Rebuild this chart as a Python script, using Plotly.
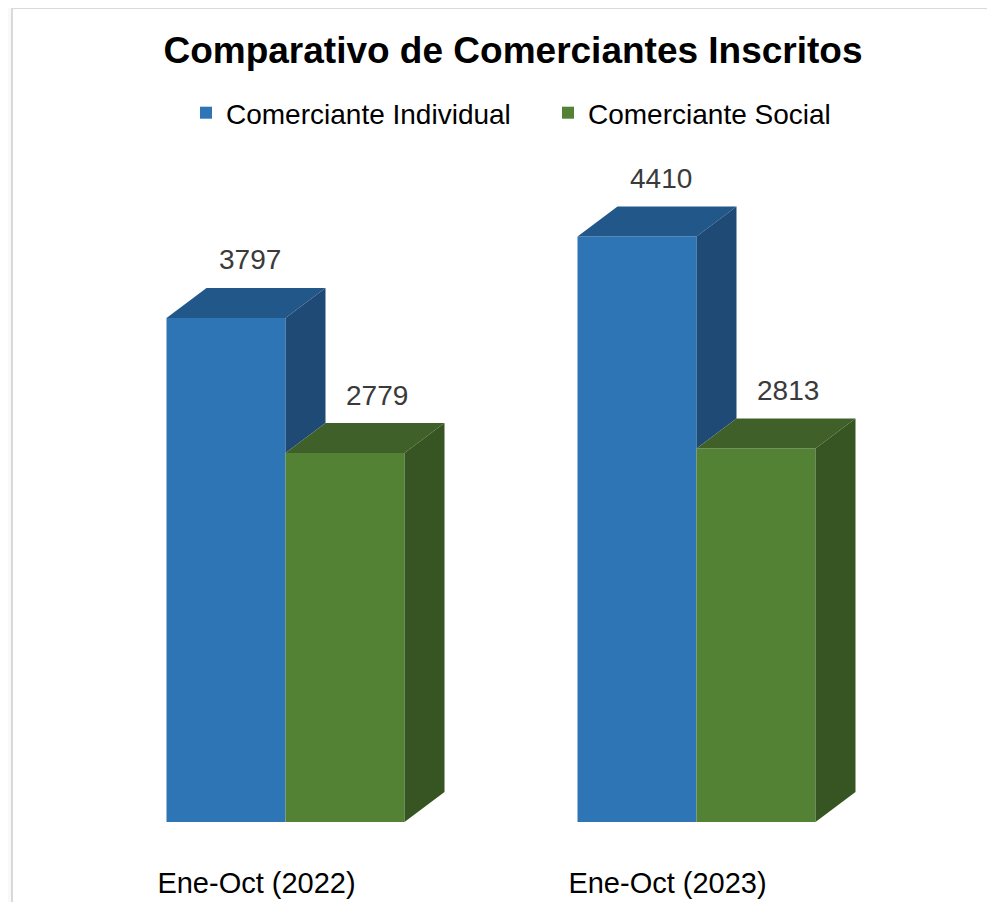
import plotly.graph_objects as go

# ---------------- data ----------------
categories = ["Ene-Oct (2022)", "Ene-Oct (2023)"]
series_names = ["Comerciante Individual", "Comerciante Social"]
individual = [3797, 4410]
social = [2779, 2813]

# ---------------- styling / layout constants ----------------
PAGE_OFF = 8                       # default body margin of the html page
W, H = 995 - 2 * PAGE_OFF, 910 - 2 * PAGE_OFF
ML, MR, MT, MB = 72, 85, 132, 80
PLOT_W = W - ML - MR
PLOT_H = H - MT - MB
PX_PER_VALUE = 0.13275            # vertical scale (pixels per unit)
Y_MAX = PLOT_H / PX_PER_VALUE
X_RANGE = [-0.5, 1.5]
PX_PER_X = PLOT_W / (X_RANGE[1] - X_RANGE[0])

BAR_W = 119 / PX_PER_X             # width of each front face (x units)
DEPTH_X = 40 / PX_PER_X            # 3D depth offset in x units
DEPTH_Y = 30 / PX_PER_VALUE        # 3D depth offset in y units
LABEL_DX = [24 / PX_PER_X, 32 / PX_PER_X]

FONT = "Liberation Sans, Arial, sans-serif"

front_colors = ["#2E75B6", "#548235"]
top_colors = ["#215789", "#3F6129"]
side_colors = ["#1E4A75", "#365522"]
offsets = [-BAR_W, 0.0]

series_values = [individual, social]
x_pos = list(range(len(categories)))

fig = go.Figure()
for s, (name, vals) in enumerate(zip(series_names, series_values)):
    fig.add_trace(go.Bar(
        name=name, x=x_pos, y=vals, width=BAR_W, offset=offsets[s],
        marker=dict(color=front_colors[s], line=dict(width=0)),
        hoverinfo="name+y",
    ))

shapes = []
annotations = []
for i in x_pos:
    for s, vals in enumerate(series_values):
        v = vals[i]
        x0 = i + offsets[s]
        x1 = x0 + BAR_W
        # top face
        shapes.append(dict(
            type="path", xref="x", yref="y", layer="above", line=dict(width=0),
            fillcolor=top_colors[s],
            path=(f"M {x0},{v} L {x1},{v} L {x1 + DEPTH_X},{v + DEPTH_Y} "
                  f"L {x0 + DEPTH_X},{v + DEPTH_Y} Z"),
        ))
        # side face (visible part only, down to the neighbouring bar's top)
        bottom = series_values[s + 1][i] if s + 1 < len(series_values) else 0
        if bottom < v:
            shapes.append(dict(
                type="path", xref="x", yref="y", layer="above", line=dict(width=0),
                fillcolor=side_colors[s],
                path=(f"M {x1},{v} L {x1 + DEPTH_X},{v + DEPTH_Y} "
                      f"L {x1 + DEPTH_X},{bottom + DEPTH_Y} L {x1},{bottom} Z"),
            ))
        annotations.append(dict(
            x=x0 + BAR_W / 2 + LABEL_DX[s], y=v + DEPTH_Y, xref="x", yref="y",
            text=str(v), showarrow=False, yanchor="middle", yshift=28,
            font=dict(family=FONT, size=28, color="#3a3a3a"),
        ))


def px_x(p):
    return (p - ML) / PLOT_W


def px_y(p):
    return 1 - (p - MT) / PLOT_H


# frame decoration (page strip and chart border)
shapes += [
    dict(type="rect", xref="paper", yref="paper", layer="below",
         x0=px_x(0), x1=px_x(3), y0=px_y(H), y1=px_y(0),
         fillcolor="#f9f9f9", line=dict(width=0)),
    dict(type="line", xref="paper", yref="paper", layer="below",
         x0=px_x(4), x1=px_x(4), y0=px_y(H), y1=px_y(0),
         line=dict(color="#d9d9d9", width=2)),
    dict(type="line", xref="paper", yref="paper", layer="below",
         x0=px_x(3), x1=px_x(W), y0=px_y(0.5), y1=px_y(0.5),
         line=dict(color="#d9d9d9", width=1)),
]

fig.update_layout(
    width=W, height=H,
    margin=dict(l=ML, r=MR, t=MT, b=MB, pad=0, autoexpand=False),
    paper_bgcolor="white", plot_bgcolor="rgba(0,0,0,0)",
    barmode="overlay",
    title=dict(text="<b>Comparativo de Comerciantes Inscritos</b>",
               x=(513 - PAGE_OFF) / W, xref="container", xanchor="center",
               y=1 - (50 - PAGE_OFF) / H, yref="container", yanchor="middle",
               font=dict(family=FONT, size=37, color="black")),
    legend=dict(orientation="h", x=(186 - PAGE_OFF) / W, xref="container",
                xanchor="left",
                y=1 - (113 - PAGE_OFF) / H, yref="container", yanchor="middle",
                entrywidth=317, borderwidth=0,
                font=dict(family=FONT, size=28, color="black"),
                bgcolor="rgba(0,0,0,0)", itemclick=False),
    xaxis=dict(range=X_RANGE, tickvals=x_pos, ticktext=categories,
               showgrid=False, zeroline=False, showline=False, ticks="",
               ticklabelshift=-29, ticklabelstandoff=41, automargin=False,
               tickfont=dict(family=FONT, size=29, color="black"),
               fixedrange=True),
    yaxis=dict(range=[0, Y_MAX], visible=False, fixedrange=True,
               automargin=False),
    shapes=shapes, annotations=annotations,
    showlegend=True,
)

fig.write_html("out.html")
